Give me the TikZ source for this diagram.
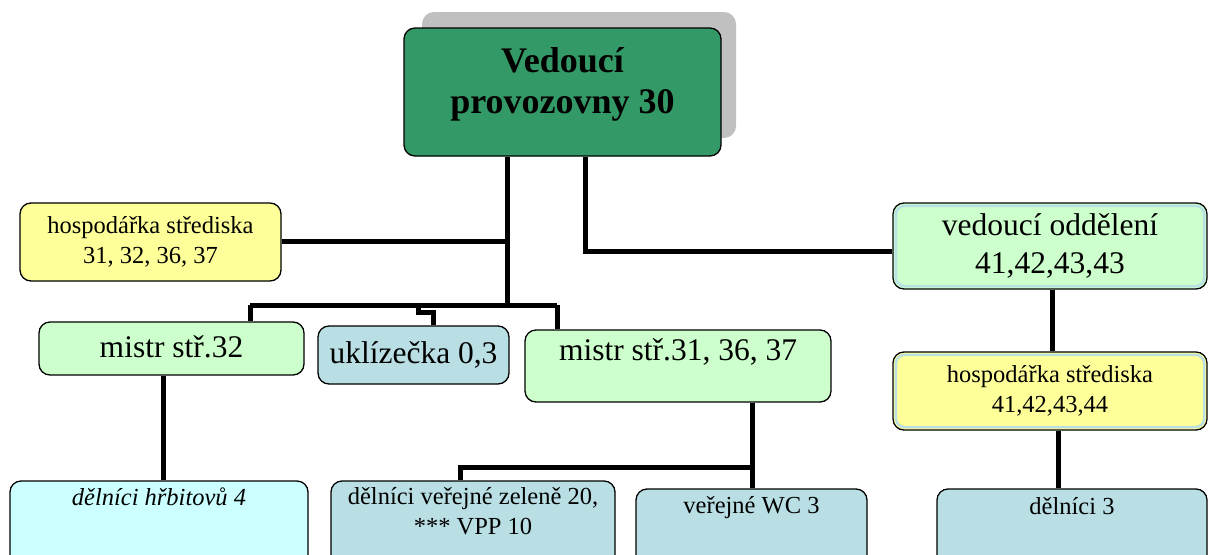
\documentclass[tikz,border=0pt]{standalone}
\usepackage{fontspec}
\setmainfont{Liberation Serif}
\definecolor{maingreen}{HTML}{339966}
\definecolor{shadowgray}{HTML}{C0C0C0}
\definecolor{boxyellow}{HTML}{FFFF99}
\definecolor{boxgreen}{HTML}{CCFFCC}
\definecolor{boxblue}{HTML}{B9DFE4}
\definecolor{boxcyan}{HTML}{CCFFFF}
\begin{document}
\begin{tikzpicture}[x=1pt,y=-1pt,
  box/.style={draw=black, line width=1.3pt, rounded corners=11pt, inner sep=0pt, anchor=center},
  glow/.style={draw=boxblue, line width=2.4pt, rounded corners=9pt},
  conn/.style={line width=5pt, line join=miter},
  bigtxt/.style={font=\fontsize{31.5}{38}\selectfont, align=center, inner sep=0pt},
  smalltxt/.style={font=\fontsize{24.5}{30}\selectfont, align=center, inner sep=0pt},
  titletxt/.style={font=\fontsize{36}{41}\selectfont\bfseries, align=center, inner sep=0pt}
]
\useasboundingbox (0,0) rectangle (1209,554);
\fill[white] (0,0) rectangle (1209,554);
\clip (0,0) rectangle (1209,554);

% shadow of top box
\fill[shadowgray, rounded corners=12pt] (422,12) rectangle (736,138);

% boxes
\node[box, fill=maingreen, minimum width=317pt, minimum height=128pt,
  label={[titletxt, anchor=center, yshift=8pt]center:Vedoucí\\provozovny 30}] (main) at (562.5,92) {};
\node[box, fill=boxyellow, minimum width=261pt, minimum height=78pt,
  label={[smalltxt, anchor=center]center:hospodářka střediska\\31, 32, 36, 37}] (hosL) at (150.5,242) {};
\node[box, fill=boxgreen, minimum width=265pt, minimum height=53pt,
  label={[bigtxt, anchor=center, yshift=2pt]center:mistr stř.32}] (mistrA) at (171.5,348.5) {};
\node[box, fill=boxblue, minimum width=191pt, minimum height=58pt,
  label={[bigtxt, anchor=center]center:uklízečka 0,3}] (ukl) at (413.5,355) {};
\node[box, fill=boxgreen, minimum width=306pt, minimum height=72pt,
  label={[bigtxt, anchor=center, yshift=14pt]center:mistr stř.31, 36, 37}] (mistrB) at (678,366) {};
\node[box, fill=boxgreen, minimum width=314pt, minimum height=86pt] (vedOdd) at (1050,246) {};
\draw[glow] (895.8,205.8) rectangle (1204.2,286.2);
\node[bigtxt] (vedOddT) at (vedOdd.center) {vedoucí oddělení\\41,42,43,43};
\node[box, fill=boxyellow, minimum width=314pt, minimum height=78pt] (hosR) at (1050,391) {};
\draw[glow] (895.8,354.8) rectangle (1204.2,427.2);
\node[smalltxt] (hosRT) at (hosR.center) {hospodářka střediska\\41,42,43,44};
\node[box, fill=boxcyan, minimum width=298pt, minimum height=100pt,
  label={[smalltxt, anchor=center, yshift=-16pt]north:\itshape dělníci hřbitovů 4}] (delH) at (159,531) {};
\node[box, fill=boxblue, minimum width=284pt, minimum height=100pt,
  label={[smalltxt, anchor=center, yshift=-31pt]north:dělníci veřejné zeleně 20,\\*** VPP 10}] (delV) at (473,531) {};
\node[box, fill=boxblue, minimum width=231pt, minimum height=100pt,
  label={[smalltxt, anchor=center, yshift=-19pt]north:veřejné WC 3}] (wc) at (751.5,539) {};
\node[box, fill=boxblue, minimum width=270pt, minimum height=100pt,
  label={[smalltxt, anchor=center, yshift=-18pt]north:dělníci 3}] (del3) at (1072,539) {};

% junction coordinates
\coordinate (jH) at (507,241);
\coordinate (jBus) at (507,305);
\coordinate (busL) at (250,305);
\coordinate (busR) at (557,305);
\coordinate (uA) at (418,305);
\coordinate (uB) at (418,312);
\coordinate (uC) at (433,312);
\coordinate (jR) at (585,251);
\coordinate (xA) at (163,0);
\coordinate (jW) at (752,467);
\coordinate (jV) at (460,467);
\coordinate (xR1) at (1052,0);
\coordinate (xR2) at (1058,0);

% connectors
\draw[conn] (main.south -| jBus) -- (jBus);
\draw[conn] (hosL.east |- jH) -- (jH);
\draw[conn] (busL) -- (busR);
\draw[conn] (busL) -- (mistrA.north -| busL);
\draw[conn] (busR) -- (mistrB.north -| busR);
\draw[conn] (uA) -- (uB) -- (uC) -- (ukl.north -| uC);
\draw[conn] (main.south -| jR) -- (jR) -- (vedOdd.west |- jR);
\draw[conn] (mistrA.south -| xA) -- (delH.north -| xA);
\draw[conn] (mistrB.south -| jW) -- (wc.north -| jW);
\draw[conn] (jW) -- (jV) -- (delV.north -| jV);
\draw[conn] (vedOdd.south -| xR1) -- (hosR.north -| xR1);
\draw[conn] (hosR.south -| xR2) -- (del3.north -| xR2);
\end{tikzpicture}
\end{document}
